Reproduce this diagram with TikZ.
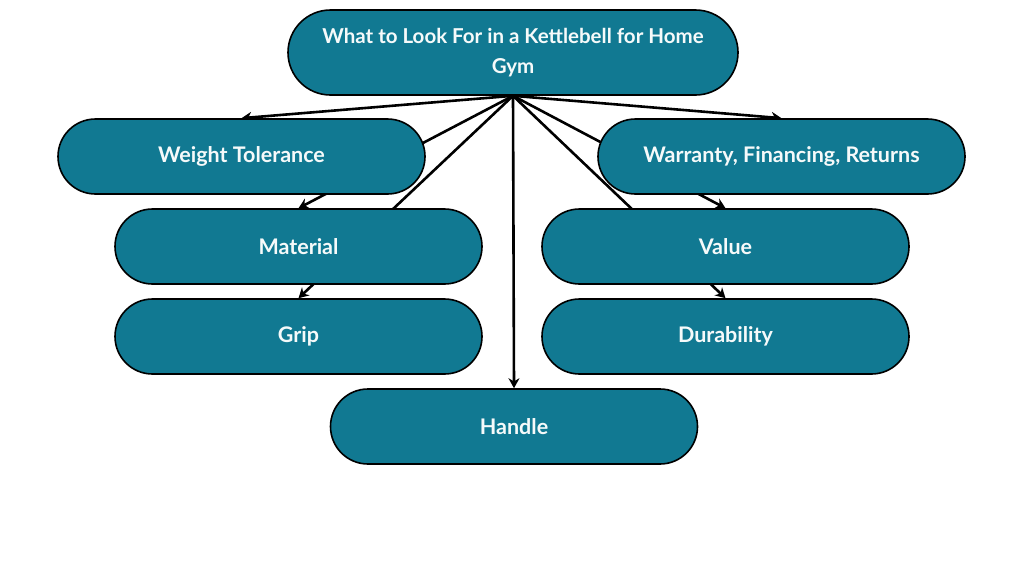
\documentclass[tikz,border=0pt]{standalone}
\usepackage{fontspec}
\setmainfont{Lato}
\usetikzlibrary{shapes.misc,arrows.meta}
\pgfdeclarelayer{background}
\pgfsetlayers{background,main}
\definecolor{teal}{RGB}{17,121,146}
\definecolor{txt}{RGB}{246,250,250}
\tikzset{
  pill/.style={rounded rectangle, draw=black, line width=1.6pt, fill=teal,
    text=txt, font=\bfseries\fontsize{21.5}{30}\selectfont,
    minimum width=367pt, minimum height=75pt, inner sep=0pt, align=center},
  conn/.style={draw=black, line width=2.6pt, -{Stealth[length=10pt,width=11pt]}}
}
\begin{document}
\begin{tikzpicture}[x=1pt,y=-1pt]
\useasboundingbox (0,0) rectangle (1024,576);
\node[pill, minimum width=450pt, minimum height=85pt, font=\bfseries\fontsize{20.5}{30}\selectfont] (root) at (513,52.5) {What to Look For in a Kettlebell for Home\\Gym};
\node[pill] (wt) at (241.5,156.5) {Weight Tolerance};
\node[pill] (wfr) at (781.5,156.5) {Warranty, Financing, Returns};
\node[pill] (mat) at (298.5,246.5) {Material};
\node[pill] (val) at (725.5,246.5) {Value};
\node[pill] (grip) at (298.5,336.5) {Grip};
\node[pill] (dur) at (725.5,336.5) {Durability};
\node[pill] (hand) at (514,426.5) {Handle};
\begin{pgfonlayer}{background}
\foreach \n in {wt,wfr,mat,val,grip,dur,hand}
  \draw[conn] (root.south) -- (\n.north);
\end{pgfonlayer}
\end{tikzpicture}
\end{document}
